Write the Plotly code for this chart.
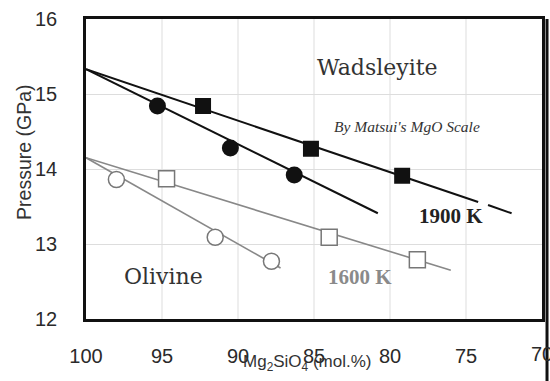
import plotly.graph_objects as go

# Data (Mg2SiO4 mol.%, Pressure GPa)
circ1900_x = [95.3, 90.5, 86.3]
circ1900_y = [14.84, 14.28, 13.92]
sq1900_x = [92.3, 85.2, 79.2]
sq1900_y = [14.84, 14.27, 13.91]
circ1600_x = [98.0, 91.5, 87.8]
circ1600_y = [13.86, 13.09, 12.77]
sq1600_x = [94.7, 84.0, 78.2]
sq1600_y = [13.87, 13.09, 12.79]
sq_err = [0.09, 0.09, 0.09]

# fitted boundary lines
ol1900_x = [100, 80.8]
ol1900_y = [15.33, 13.41]
wd1900_x_a = [100, 74.2]
wd1900_y_a = [15.33, 13.56]
wd1900_x_b = [73.55, 72.0]
wd1900_y_b = [13.52, 13.41]
ol1600_x = [100, 87.2]
ol1600_y = [14.15, 12.68]
wd1600_x = [100, 76.0]
wd1600_y = [14.15, 12.65]

xticks = [100, 95, 90, 85, 80, 75]
edge_tick = "70"
yticks = [12, 13, 14, 15, 16]

BLACK = "#111111"
GRAY = "#888888"

fig = go.Figure()

def line(x, y, color, w):
    fig.add_trace(go.Scatter(x=x, y=y, mode="lines", line=dict(color=color, width=w),
                             showlegend=False, hoverinfo="skip"))

line(ol1900_x, ol1900_y, BLACK, 2)
line(wd1900_x_a, wd1900_y_a, BLACK, 2)
line(wd1900_x_b, wd1900_y_b, BLACK, 2)
line(ol1600_x, ol1600_y, GRAY, 1.6)
line(wd1600_x, wd1600_y, GRAY, 1.6)

fig.add_trace(go.Scatter(x=circ1900_x, y=circ1900_y, mode="markers",
                         marker=dict(symbol="circle", size=17, color=BLACK, line=dict(width=0)),
                         showlegend=False))
fig.add_trace(go.Scatter(x=sq1900_x, y=sq1900_y, mode="markers",
                         error_y=dict(type="data", array=sq_err, color="#bbbbbb", thickness=1, width=4),
                         marker=dict(symbol="square", size=16, color=BLACK, line=dict(width=0)),
                         showlegend=False))
fig.add_trace(go.Scatter(x=circ1600_x, y=circ1600_y, mode="markers",
                         marker=dict(symbol="circle", size=16, color="white", line=dict(width=1.5, color="#777777")),
                         showlegend=False))
fig.add_trace(go.Scatter(x=sq1600_x, y=sq1600_y, mode="markers",
                         error_y=dict(type="data", array=sq_err, color="#aaaaaa", thickness=1, width=4),
                         marker=dict(symbol="square", size=16, color="white", line=dict(width=1.5, color="#777777")),
                         showlegend=False))

serif = "DejaVu Serif"
tserif = "Liberation Serif"
anns = [
    dict(x=80.8, y=15.36, text="Wadsleyite", font=dict(family=serif, size=22, color="#333333")),
    dict(x=78.85, y=14.57, text="<i>By Matsui's MgO Scale</i>", font=dict(family=tserif, size=15.5, color="#333333")),
    dict(x=76.0, y=13.37, text="<b>1900 K</b>", font=dict(family=tserif, size=21, color="#222222")),
    dict(x=81.97, y=12.56, text="<b>1600 K</b>", font=dict(family=tserif, size=21, color="#8a8a8a")),
    dict(x=94.93, y=12.57, text="Olivine", font=dict(family=serif, size=22, color="#333333")),
]
for a in anns:
    fig.add_annotation(xref="x", yref="y", showarrow=False, xanchor="center", yanchor="middle", **a)

fig.add_annotation(xref="paper", yref="paper", x=-0.136, y=0.557, text="Pressure (GPa)",
                   textangle=-90, showarrow=False, xanchor="center", yanchor="middle",
                   font=dict(family="Liberation Sans", size=19.5, color="#333333"))
fig.add_annotation(xref="paper", yref="paper", x=0.485, y=-0.147, text="Mg<sub>2</sub>SiO<sub>4</sub> (mol.%)",
                   showarrow=False, xanchor="center", yanchor="middle",
                   font=dict(family="Liberation Sans", size=17, color="#333333"))
# edge tick label at x=70 (partly cut off by the page edge, as in the original)
fig.add_annotation(xref="x", yref="paper", x=70, y=-0.117, text=edge_tick,
                   showarrow=False, xanchor="center", yanchor="middle",
                   font=dict(family="Liberation Sans", size=20, color="#2a2a2a"))

fig.add_shape(type="line", xref="paper", yref="paper", x0=1.011, x1=1.011, y0=1.0, y1=-0.21,
              line=dict(color="#111111", width=3))

fig.update_xaxes(range=[100, 70], tickvals=xticks, ticktext=[str(v) for v in xticks],
                 showgrid=False, zeroline=False,
                 showline=True, linecolor=BLACK, linewidth=2.5, mirror=True, ticks="",
                 ticklabelstandoff=17, automargin=False,
                 tickfont=dict(family="Liberation Sans", size=20, color="#2a2a2a"))
# gridlines (including x=70) drawn as shapes so the edge tick keeps its gridline
for xv in xticks[1:]:
    fig.add_shape(type="line", xref="x", yref="paper", x0=xv, x1=xv, y0=0, y1=1,
                  line=dict(color="#dddddd", width=1), layer="below")
fig.update_yaxes(range=[12, 16], tickvals=yticks, ticktext=[str(v) for v in yticks],
                 showgrid=True, gridcolor="#dddddd", gridwidth=1, zeroline=False,
                 showline=True, linecolor=BLACK, linewidth=2.5, mirror=True, ticks="",
                 ticklabelstandoff=22, automargin=False,
                 tickfont=dict(family="Liberation Sans", size=20, color="#2a2a2a"))

fig.update_layout(width=550, height=381, margin=dict(l=86, r=8, t=19, b=62),
                  plot_bgcolor="white", paper_bgcolor="white")

fig.write_html("out.html")
